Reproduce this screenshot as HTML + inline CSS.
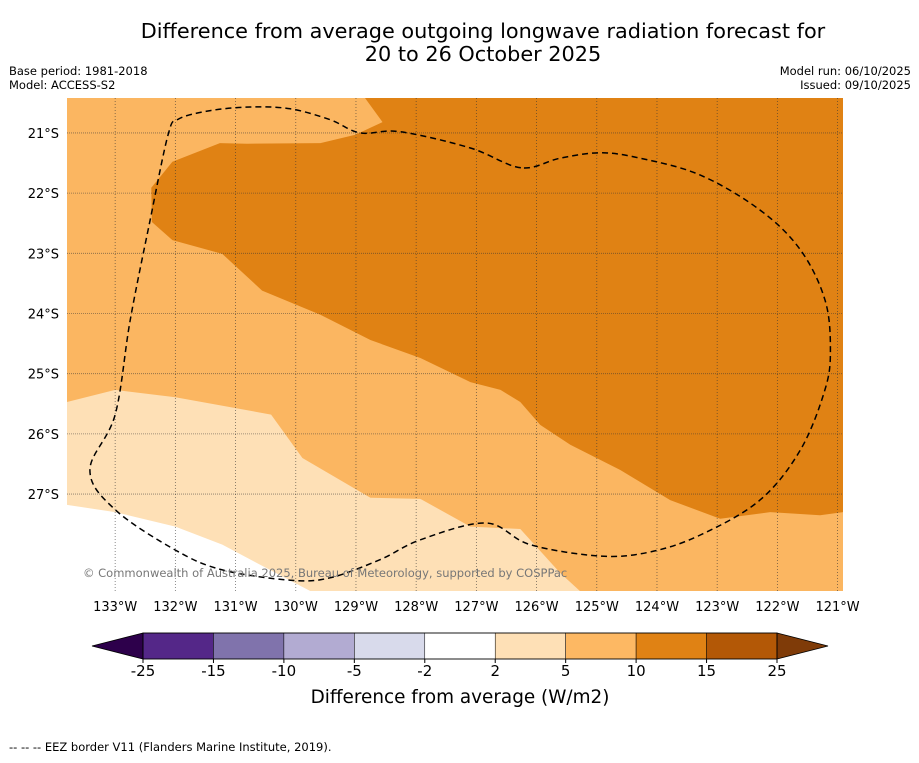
<!DOCTYPE html>
<html><head><meta charset="utf-8"><style>
body{margin:0;background:#fff;font-family:"Liberation Sans","DejaVu Sans",sans-serif;}
svg text{font-family:"DejaVu Sans","Liberation Sans",sans-serif;}
</style></head><body>
<svg id="chart" width="919" height="758" xmlns="http://www.w3.org/2000/svg">
<rect width="919" height="758" fill="#fff"/>
<text x="483" y="38" font-size="20.8" text-anchor="middle">Difference from average outgoing longwave radiation forecast for</text>
<text x="483" y="61" font-size="20.8" text-anchor="middle">20 to 26 October 2025</text>
<text x="9" y="75" font-size="11.5">Base period: 1981-2018</text>
<text x="9" y="89" font-size="11.5">Model: ACCESS-S2</text>
<text x="911" y="75" font-size="11.5" text-anchor="end">Model run: 06/10/2025</text>
<text x="911" y="89" font-size="11.5" text-anchor="end">Issued: 09/10/2025</text>
<g id="map"></g>
<g id="cbar"></g>
<text x="460" y="703" font-size="18.4" text-anchor="middle">Difference from average (W/m2)</text>
<text x="9" y="751" font-size="11.5">--  --  -- EEZ border V11 (Flanders Marine Institute, 2019).</text>
</svg>
<script>
const lonTicks=[-133,-132,-131,-130,-129,-128,-127,-126,-125,-124,-123,-122,-121];
const latTicks=[-21,-22,-23,-24,-25,-26,-27];
const extentLon=[-133.80,-120.91];
const extentLat=[-20.42,-28.61];
const darkLon=[-128.85,-128.56,-129.01,-129.59,-130.81,-131.26,-132.05,-132.40,-132.39,-132.05,-131.22,-130.56,-129.59,-128.76,-127.93,-127.10,-126.60,-126.27,-125.94,-125.44,-124.61,-123.78,-122.95,-122.12,-121.29,-120.91,-120.91];
const darkLat=[-20.42,-20.82,-21.03,-21.17,-21.18,-21.17,-21.48,-21.91,-22.48,-22.78,-23.01,-23.62,-24.02,-24.44,-24.74,-25.14,-25.27,-25.47,-25.85,-26.18,-26.60,-27.10,-27.41,-27.30,-27.35,-27.30,-20.42];
const lightLon=[-133.80,-133.00,-132.00,-131.01,-130.41,-129.89,-128.76,-127.93,-127.10,-126.27,-125.61,-125.28,-133.80];
const lightLat=[-25.47,-25.27,-25.39,-25.57,-25.68,-26.40,-27.06,-27.08,-27.54,-27.58,-28.31,-28.61,-28.61];
const whiteLon=[-133.80,-133.00,-132.00,-131.22,-130.43,-129.76,-133.80];
const whiteLat=[-27.18,-27.30,-27.54,-27.84,-28.26,-28.61,-28.61];
const eezLon=[-126.26,-127.10,-128.27,-128.93,-129.43,-130.09,-130.76,-131.42,-131.95,-132.12,-132.42,-132.75,-133.00,-133.42,-133.00,-132.00,-131.22,-130.09,-129.43,-128.60,-127.93,-126.84,-126.11,-124.94,-124.11,-123.28,-122.29,-121.62,-121.21,-121.12,-121.21,-121.62,-122.29,-123.28,-124.28,-124.94,-125.61,-126.26];
const eezLat=[-21.58,-21.25,-20.98,-21.00,-20.78,-20.60,-20.57,-20.63,-20.77,-21.03,-22.45,-24.11,-25.68,-26.60,-27.26,-27.93,-28.26,-28.43,-28.39,-28.09,-27.76,-27.48,-27.84,-28.03,-27.96,-27.68,-27.10,-26.27,-25.27,-24.60,-23.77,-22.94,-22.28,-21.70,-21.42,-21.33,-21.42,-21.58];
const cbLevels=[-25,-15,-10,-5,-2,2,5,10,15,25];
const cbColors=["#542788","#8073ac","#b2abd2","#d8daeb","#ffffff","#fee0b6","#fdb863","#e08214","#b35806"];
const cbUnder="#2d004b", cbOver="#7f3b08";

const NS="http://www.w3.org/2000/svg";
const X0=67,X1=843,Y0=98,Y1=591;
const xs=lon=>X0+(lon-extentLon[0])/(extentLon[1]-extentLon[0])*(X1-X0);
const ys=lat=>Y0+(lat-extentLat[0])/(extentLat[1]-extentLat[0])*(Y1-Y0);
function mk(tag,attrs,parent){const e=document.createElementNS(NS,tag);for(const k in attrs)e.setAttribute(k,attrs[k]);parent.appendChild(e);return e;}
const map=document.getElementById('map');
const bg=mk('rect',{x:X0,y:Y0,width:X1-X0,height:Y1-Y0,fill:"#fbb661"},map);


function poly(lo,la,fill,name){const p=mk('polygon',{points:lo.map((v,i)=>xs(v).toFixed(1)+','+ys(la[i]).toFixed(1)).join(' '),fill:fill},map);

}
poly(darkLon,darkLat,"#e08214",'contour-10-to-15');
poly(lightLon,lightLat,"#fee0b6",'contour-2-to-5');
poly(whiteLon,whiteLat,"#ffffff",'contour-minus2-to-2');
lonTicks.forEach(l=>{const x=xs(l);
const g=mk('line',{x1:x,x2:x,y1:Y0,y2:Y1,stroke:"#333",'stroke-width':0.8,'stroke-dasharray':'1,2','stroke-opacity':0.7},map);


const t=mk('text',{x:x,y:611,'font-size':13,'text-anchor':'middle'},map);t.textContent=Math.abs(l)+'°W';

});
latTicks.forEach(l=>{const y=ys(l);
const g=mk('line',{x1:X0,x2:X1,y1:y,y2:y,stroke:"#333",'stroke-width':0.8,'stroke-dasharray':'1,1','stroke-opacity':0.6},map);


const t=mk('text',{x:59,y:y+5,'font-size':13,'text-anchor':'end'},map);t.textContent=Math.abs(l)+'°S';

});
// smooth closed curve (Catmull-Rom) through the EEZ points
const pts=eezLon.slice(0,-1).map((v,i)=>[xs(v),ys(eezLat[i])]);
let d='M'+pts[0][0].toFixed(1)+','+pts[0][1].toFixed(1);
const N=pts.length;
for(let i=0;i<N;i++){const p0=pts[(i-1+N)%N],p1=pts[i],p2=pts[(i+1)%N],p3=pts[(i+2)%N];
const c1=[p1[0]+(p2[0]-p0[0])/6,p1[1]+(p2[1]-p0[1])/6],c2=[p2[0]-(p3[0]-p1[0])/6,p2[1]-(p3[1]-p1[1])/6];
d+=` C${c1[0].toFixed(1)},${c1[1].toFixed(1)} ${c2[0].toFixed(1)},${c2[1].toFixed(1)} ${p2[0].toFixed(1)},${p2[1].toFixed(1)}`;}
const eez=mk('path',{d:d,fill:'none',stroke:'#000','stroke-width':1.5,'stroke-dasharray':'6,4'},map);


const cr=mk('text',{x:83,y:577,'font-size':11.5,fill:'#777'},map);cr.textContent='© Commonwealth of Australia 2025, Bureau of Meteorology, supported by COSPPac';



const cb=document.getElementById('cbar');
const CX0=143,CX1=777,CY0=633,CY1=659,n=cbColors.length,w=(CX1-CX0)/n;
cbColors.forEach((c,i)=>{const r=mk('rect',{x:CX0+i*w,y:CY0,width:w,height:CY1-CY0,fill:c,stroke:'#000','stroke-width':0.5},cb);

});
const tu=mk('polygon',{points:`${CX0},${CY0} 92,${(CY0+CY1)/2} ${CX0},${CY1}`,fill:cbUnder,stroke:'#000','stroke-width':0.8},cb);


const to=mk('polygon',{points:`${CX1},${CY0} 828,${(CY0+CY1)/2} ${CX1},${CY1}`,fill:cbOver,stroke:'#000','stroke-width':0.8},cb);


mk('rect',{x:CX0,y:CY0,width:CX1-CX0,height:CY1-CY0,fill:'none',stroke:'#000','stroke-width':0.8},cb);
cbLevels.forEach((v,i)=>{const x=CX0+i*w;
mk('line',{x1:x,x2:x,y1:CY1,y2:CY1+4,stroke:'#000'},cb);
const t=mk('text',{x:x,y:676,'font-size':15,'text-anchor':'middle'},cb);t.textContent=v;

});
</script>
</body></html>
